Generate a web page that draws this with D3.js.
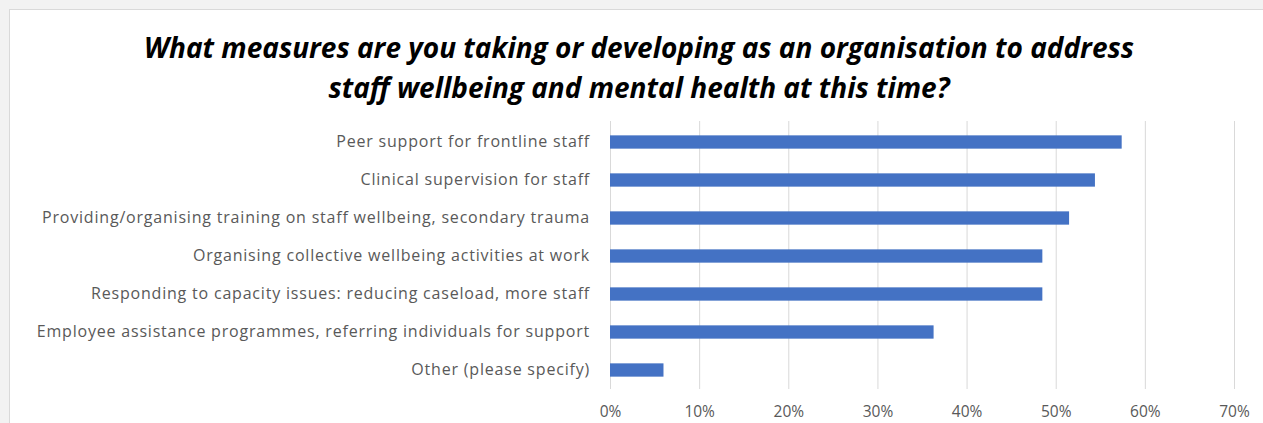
<!DOCTYPE html>
<meta charset="utf-8">
<style>
body { margin: 0; background: #fff; }
text { font-family: "Open Sans", sans-serif; }
.grid line { stroke: #d9d9d9; stroke-width: 1px; }
.cat text { fill: #595959; font-size: 16px; letter-spacing: 0.8px; }
.xaxis text { fill: #595959; font-size: 15.5px; }
.title { font-weight: bold; font-style: italic; font-size: 28px; fill: #000; }
</style>
<svg width="1263" height="423"></svg>
<script src="https://d3js.org/d3.v7.min.js"></script>
<script>

var titleLines = ["What measures are you taking or developing as an organisation to address",
                  "staff wellbeing and mental health at this time?"];

var categories = ["Peer support for frontline staff",
                  "Clinical supervision for staff",
                  "Providing/organising training on staff wellbeing, secondary trauma",
                  "Organising collective wellbeing activities at work",
                  "Responding to capacity issues: reducing caseload, more staff",
                  "Employee assistance programmes, referring individuals for support",
                  "Other (please specify)"];

var values = [0.574, 0.544, 0.515, 0.485, 0.485, 0.363, 0.06];

var ticks = [0, 0.1, 0.2, 0.3, 0.4, 0.5, 0.6, 0.7];

var svg = d3.select("svg"),
    width = +svg.attr("width"),
    height = +svg.attr("height");

// chart frame
svg.append("rect")
    .attr("x", 0).attr("y", 0).attr("width", width).attr("height", height)
    .style("fill", "#f2f2f2");
svg.append("rect")
    .attr("x", 9.5).attr("y", 9.5).attr("width", width).attr("height", height)
    .style("fill", "#fff").style("stroke", "#d9d9d9");

var x = d3.scaleLinear().domain([0, 0.7]).range([610, 1234]);
var y = d3.scaleBand().domain(categories).range([123, 389]).paddingInner(0.65).paddingOuter(0.325);

// title
svg.selectAll(".title")
    .data(titleLines)
    .enter().append("text")
      .attr("class", "title")
      .attr("x", 639)
      .attr("y", function(d, i) { return 58 + i * 40; })
      .attr("text-anchor", "middle")
      .text(function(d) { return d; });

// gridlines
svg.append("g")
    .attr("class", "grid")
  .selectAll("line")
  .data(ticks)
  .enter().append("line")
    .attr("x1", function(d) { return x(d) + 0.5; })
    .attr("x2", function(d) { return x(d) + 0.5; })
    .attr("y1", 121)
    .attr("y2", 389);

// bars
svg.append("g")
  .selectAll("rect")
  .data(values)
  .enter().append("rect")
    .attr("x", x(0))
    .attr("y", function(d, i) { return y(categories[i]); })
    .attr("width", function(d) { return x(d) - x(0); })
    .attr("height", y.bandwidth())
    .style("fill", "#4472c4");

// category labels
var yAxis = svg.append("g")
    .attr("class", "cat")
    .attr("transform", "translate(" + (x(0) - 20) + ",0)")
    .call(d3.axisLeft(y).tickSize(0).tickPadding(0));
yAxis.select(".domain").remove();

// x axis labels
var xAxis = svg.append("g")
    .attr("class", "xaxis")
    .attr("transform", "translate(0,402)")
    .call(d3.axisBottom(x).tickValues(ticks).tickSize(0).tickPadding(0).tickFormat(d3.format(".0%")));
xAxis.select(".domain").remove();
xAxis.selectAll("text").attr("dy", "0.71em").attr("y", 4);

</script>
